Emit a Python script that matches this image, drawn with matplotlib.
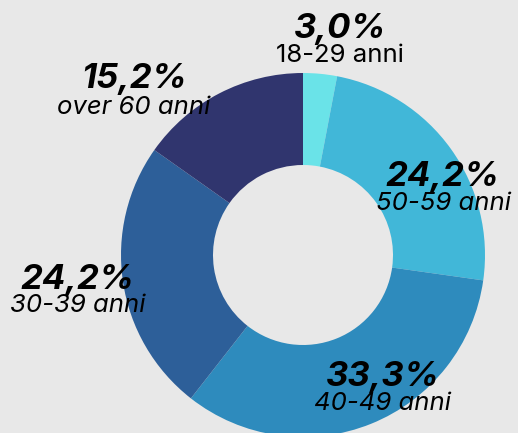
import matplotlib
matplotlib.use("Agg")
import matplotlib.pyplot as plt

categories = ["18-29 anni", "50-59 anni", "40-49 anni", "30-39 anni", "over 60 anni"]
values = [3.0, 24.2, 33.3, 24.2, 15.2]
pct_labels = ["3,0%", "24,2%", "33,3%", "24,2%", "15,2%"]
colors = ["#6ae3e8", "#41b7d8", "#2e8bbd", "#2d5f99", "#30356e"]

W, H = 518, 433
fig = plt.figure(figsize=(W / 100, H / 100), dpi=100)
fig.patch.set_facecolor("#e8e8e8")
ax = fig.add_axes([0, 0, 1, 1])
ax.set_facecolor("#e8e8e8")

cx, cy = 303, H - 255
R, r = 182, 90
ax.pie(values, colors=colors, startangle=90, counterclock=False,
       radius=R, center=(cx, cy), wedgeprops=dict(width=R - r, linewidth=0),
       frame=True)
ax.set_xlim(0, W)
ax.set_ylim(0, H)
ax.set_aspect("equal")
ax.axis("off")

# label positions in pixel coords (x, y_pct, y_cat)
pos = [(340, 29, 56), (443, 177, 204), (382, 377, 404), (78, 280, 306), (134, 79, 107)]
styles = ["normal", "italic", "italic", "italic", "italic"]
fam = ["Inter", "DejaVu Sans"]
for (x, yp, yc), p, c, st in zip(pos, pct_labels, categories, styles):
    ax.text(x, H - yp, p, ha="center", va="center", fontsize=25,
            fontweight="bold", fontstyle="italic", family=fam, color="black")
    ax.text(x, H - yc, c, ha="center", va="center", fontsize=18.5,
            fontstyle=st, family=fam, color="black")

fig.savefig("out.png", dpi=100, facecolor=fig.get_facecolor())
